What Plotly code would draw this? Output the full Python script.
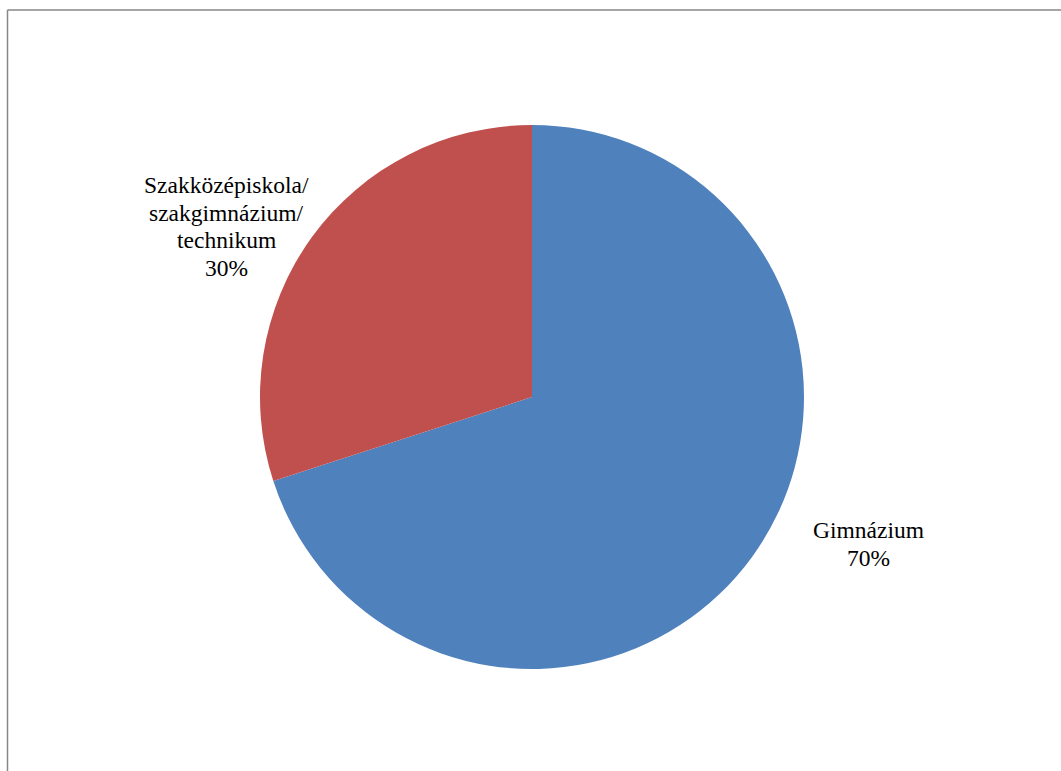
import plotly.graph_objects as go

W, H = 1061, 771
labels = ["Gimnázium", "Szakközépiskola/<br>szakgimnázium/<br>technikum"]
values = [70, 30]
colors = ["#4F81BD", "#C0504D"]
# label block anchor: centre x, first-line y (px)
label_pos = [(868, 530), (226, 185)]
line_gap = 27.5

cx, cy, r = 532, 397, 272

fig = go.Figure(go.Pie(
    labels=labels, values=values, sort=False, direction="clockwise", rotation=0,
    marker=dict(colors=colors, line=dict(width=0)),
    textinfo="none", hoverinfo="label+percent", showlegend=False,
    domain=dict(x=[(cx - r) / W, (cx + r) / W], y=[1 - (cy + r) / H, 1 - (cy - r) / H]),
))

total = sum(values)
for lab, v, (x, y) in zip(labels, values, label_pos):
    lines = lab.split("<br>") + [f"{round(100 * v / total)}%"]
    for i, ln in enumerate(lines):
        fig.add_annotation(
            x=x / W, y=1 - (y + i * line_gap) / H, xref="paper", yref="paper",
            text=ln, showarrow=False,
            align="center", xanchor="center", yanchor="middle",
            font=dict(family="Liberation Serif", size=23.5, color="#000000"),
        )

fig.add_shape(type="line", xref="paper", yref="paper", x0=7.5 / W, x1=1, y0=1 - 10 / H, y1=1 - 10 / H,
              line=dict(color="#878787", width=1.5))
fig.add_shape(type="line", xref="paper", yref="paper", x0=7.5 / W, x1=7.5 / W, y0=0, y1=1 - 10 / H,
              line=dict(color="#878787", width=1.5))

fig.update_layout(
    width=W, height=H, margin=dict(l=0, r=0, t=0, b=0),
    paper_bgcolor="white", plot_bgcolor="white",
    font=dict(family="Liberation Serif"),
)
fig.write_html("out.html", config={"displayModeBar": False},
               post_script="document.body.style.margin='0';")
